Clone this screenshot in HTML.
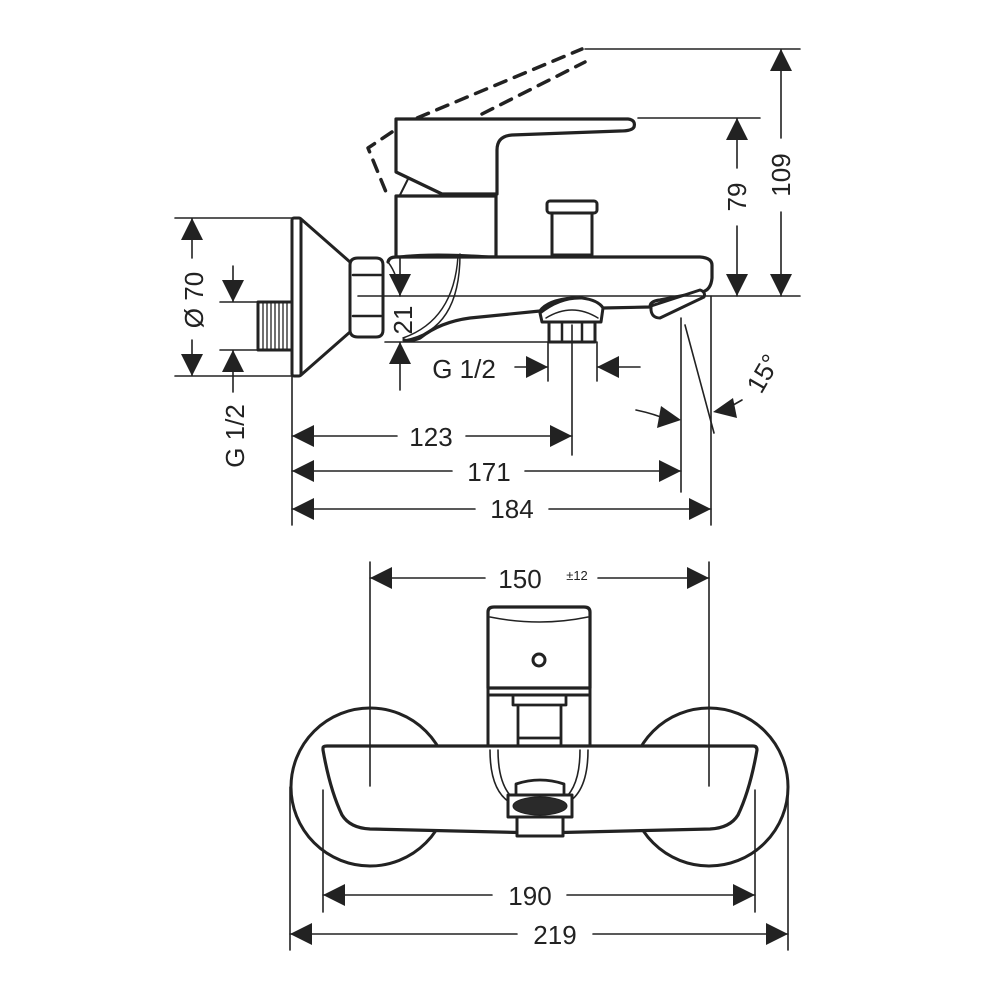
<!DOCTYPE html>
<html><head><meta charset="utf-8"><style>
html,body{margin:0;padding:0;background:#fff}
svg{display:block}
text{font-family:"Liberation Sans",sans-serif;fill:#222}
</style></head><body>
<svg width="1000" height="1000" viewBox="0 0 1000 1000" xmlns="http://www.w3.org/2000/svg">
<g fill="none" stroke="#222" stroke-linejoin="round" stroke-linecap="round">
<g stroke-width="3.5" stroke-dasharray="12,9">
<path d="M398,126 L582,49"/>
<path d="M482,114 L585,62"/>
<path d="M392,132 L368,148 L386,192"/>
</g>
<path stroke-width="3.2" fill="#fff" d="M396,172 L396,119 L628,119 Q636,120 634,127 Q632,131 620,131 L512,135 Q497,136 497,150 L497,194 L442,194 Z"/>
<path stroke-width="2" d="M400,195 L408,179"/>
<rect x="396" y="196" width="100" height="61" stroke-width="3.2" fill="#fff"/>
<rect x="547" y="201" width="50" height="12" rx="3" stroke-width="3" fill="#fff"/>
<rect x="552" y="213" width="40" height="42" stroke-width="3" fill="#fff"/>
<rect x="292" y="218" width="9" height="158" rx="2" stroke-width="3" fill="#fff"/>
<path stroke-width="3" d="M301,219 L350,262 M301,375 L350,332"/>
<rect x="258" y="302" width="34" height="48" stroke-width="3" fill="#fff"/>
<path stroke-width="1.3" d="M263,303V349M267,303V349M271,303V349M275,303V349M279,303V349M283,303V349M287,303V349"/>
<path stroke-width="3" fill="#fff" d="M350,265 Q350,258 358,258 L376,258 Q383,258 383,265 L383,330 Q383,337 376,337 L358,337 Q350,337 350,330 Z"/>
<path stroke-width="2.5" d="M353,275H381M353,316H381"/>
<path stroke-width="3.2" fill="#fff" d="M388,262 Q389,257 396,257 L700,257 Q712,258 712,265 L712,278 Q711,290 702,292 L660,300 Q650,301 650,307 L603,308 Q598,300 573,298 Q548,300 540,311 L470,318 Q440,322 420,338 Q410,342 404,340"/>
<path stroke-width="2" d="M396,257 Q430,252 496,257"/>
<path stroke-width="1.5" d="M460,254 Q460,330 405,340 M458,256 Q454,320 403,338"/>
<path stroke-width="1.5" d="M388,262 Q398,275 400,296"/>
<path stroke-width="3" fill="#fff" d="M651,306 L700,290 Q706,292 704,297 L660,318 Q652,318 651,310 Z"/>
<path stroke-width="3" fill="#fff" d="M540,313 Q560,297 582,298 Q598,300 603,308 L601,322 L542,322 Z"/>
<path stroke-width="1.5" d="M546,318 Q572,302 598,318"/>
<rect x="549" y="322" width="46" height="20" stroke-width="3" fill="#fff"/>
<path stroke-width="2.5" d="M562,322V342M582,322V342"/>
<g stroke-width="1.6">
<path d="M358,296H800"/>
<path d="M585,49H800M781,49V138M781,212V296"/>
<path d="M638,118H760M737,118V168M737,226V296"/>
<path d="M175,218H292M175,376H292M192,218V258M192,340V376"/>
<path d="M220,302H258M220,350H258M233,266V302M233,350V392"/>
<path d="M400,258V296M385,342H548M400,342V390"/>
<path d="M548,342V381M597,342V381M515,367H548M597,367H640"/>
<path d="M292,376V525M572,325V455M681,318V492M711,296V525"/>
<path d="M685,325L714,433"/>
<path d="M636,410Q655,414 668,420M742,400L728,408"/>
<path d="M292,436H397M466,436H572M292,471H452M525,471H681M292,509H475M549,509H711"/>
</g>
<circle cx="370" cy="787" r="79" stroke-width="3"/>
<circle cx="709" cy="787" r="79" stroke-width="3"/>
<path stroke-width="3.2" fill="#fff" d="M323,748 Q323,746 327,746 L753,746 Q757,746 757,750 Q750,790 738,815 Q730,828 710,829 L540,833 L370,829 Q350,828 342,815 Q330,790 323,750 Z"/>
<path stroke-width="3.2" fill="#fff" d="M488,612 Q488,607 494,607 L584,607 Q590,607 590,612 L590,688 L488,688 Z"/>
<path stroke-width="1.5" d="M490,617 Q540,627 588,617"/>
<path stroke-width="3" d="M488,688V695H590V688"/>
<path stroke-width="3" d="M488,695V746M590,695V746"/>
<path stroke-width="2.8" d="M513,695V705H566V695M518,705V745M561,705V745M518,738H561"/>
<circle cx="539" cy="660" r="6" stroke-width="3"/>
<path stroke-width="1.6" d="M490,750Q490,795 515,805M498,750Q498,790 518,802M588,750Q588,795 563,805M580,750Q580,790 560,802"/>
<path stroke-width="2.8" fill="#fff" d="M516,784Q540,776 564,784L564,798L516,798Z"/>
<rect x="508" y="795" width="64" height="22" stroke-width="3" fill="#fff"/>
<ellipse cx="540" cy="806" rx="27" ry="9" fill="#2a2a2a" stroke-width="1"/>
<rect x="517" y="817" width="46" height="19" stroke-width="3" fill="#fff"/>
<g stroke-width="1.6">
<path d="M370,562V786M709,562V786"/>
<path d="M370,578H485M598,578H709"/>
<path d="M323,790V912M755,790V912M290,787V950M788,787V950"/>
<path d="M323,895H492M567,895H755M290,934H517M593,934H788"/>
</g>
</g>
<g fill="#222">
<polygon points="781,49 770,71 792,71"/><polygon points="781,296 770,274 792,274"/>
<polygon points="737,118 726,140 748,140"/><polygon points="737,296 726,274 748,274"/>
<polygon points="192,218 181,240 203,240"/><polygon points="192,376 181,354 203,354"/>
<polygon points="233,302 222,280 244,280"/><polygon points="233,350 222,372 244,372"/>
<polygon points="400,296 389,274 411,274"/><polygon points="400,342 389,364 411,364"/>
<polygon points="548,367 526,356 526,378"/><polygon points="597,367 619,356 619,378"/>
<polygon points="681,420 661,406 657,428"/><polygon points="713,412 733,398 737,418"/>
<polygon points="292,436 314,425 314,447"/><polygon points="572,436 550,425 550,447"/>
<polygon points="292,471 314,460 314,482"/><polygon points="681,471 659,460 659,482"/>
<polygon points="292,509 314,498 314,520"/><polygon points="711,509 689,498 689,520"/>
<polygon points="370,578 392,567 392,589"/><polygon points="709,578 687,567 687,589"/>
<polygon points="323,895 345,884 345,906"/><polygon points="755,895 733,884 733,906"/>
<polygon points="290,934 312,923 312,945"/><polygon points="788,934 766,923 766,945"/>
</g>
<g font-size="26">
<text x="790" y="175" text-anchor="middle" transform="rotate(-90 790 175)">109</text>
<text x="746" y="197" text-anchor="middle" transform="rotate(-90 746 197)">79</text>
<text x="203" y="300" text-anchor="middle" transform="rotate(-90 203 300)">Ø 70</text>
<text x="244" y="436" text-anchor="middle" transform="rotate(-90 244 436)">G 1/2</text>
<text x="412" y="320" text-anchor="middle" transform="rotate(-90 412 320)">21</text>
<text x="464" y="378" text-anchor="middle">G 1/2</text>
<text x="771" y="378" text-anchor="middle" transform="rotate(-60 771 378)">15°</text>
<text x="431" y="446" text-anchor="middle">123</text>
<text x="489" y="481" text-anchor="middle">171</text>
<text x="512" y="518" text-anchor="middle">184</text>
<text x="520" y="588" text-anchor="middle">150</text>
<text x="577" y="580" text-anchor="middle" font-size="13">±12</text>
<text x="530" y="905" text-anchor="middle">190</text>
<text x="555" y="944" text-anchor="middle">219</text>
</g>
</svg>
</body></html>
